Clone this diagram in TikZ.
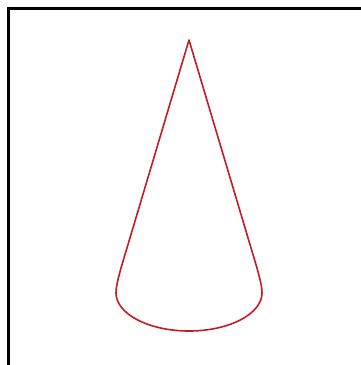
\documentclass[tikz,border=0pt]{standalone}
\usepackage{tikz}
\usetikzlibrary{calc}

\definecolor{conered}{RGB}{196,28,36}

\begin{document}
\begin{tikzpicture}[x=1pt,y=-1pt]
    % page size of the picture
    \useasboundingbox (0,0) rectangle (361,365);

    % Frame (only top and left edges are inside the page)
    \draw[black, line width=3pt] (8.5,365) -- (8.5,8.5) -- (361,8.5);

    % Cone outline
    \coordinate (apex) at (189,40);
    \coordinate (bl) at (121,268);
    \coordinate (br) at (257,268);
    \coordinate (wl) at (116,293);
    \coordinate (wr) at (262,293);
    \coordinate (bot) at (189,331);
    \draw[conered, line width=1.6pt, line join=round]
        (apex) -- (bl)
        .. controls (117.5,281) and (116,287) .. (wl)
        .. controls (116,314) and (149,331) .. (bot)
        .. controls (229,331) and (262,314) .. (wr)
        .. controls (262,287) and (260.5,281) .. (br)
        -- cycle;
\end{tikzpicture}
\end{document}
